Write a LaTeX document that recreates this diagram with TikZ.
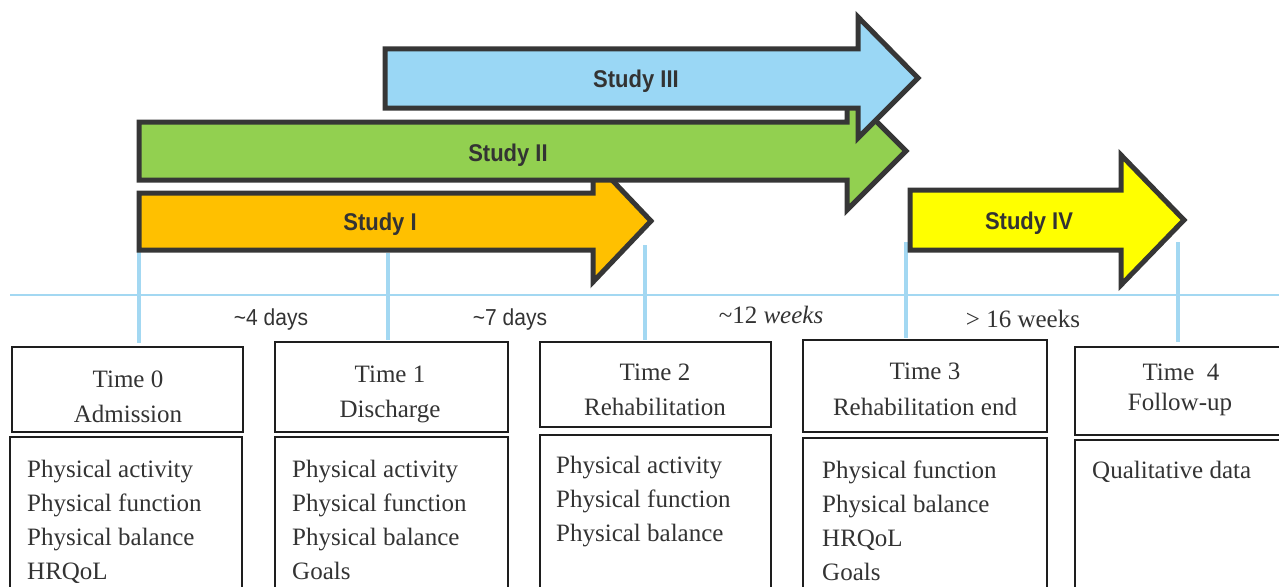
\documentclass[tikz,border=0pt]{standalone}
\usepackage{fontspec}
\setmainfont{Liberation Serif}
\newfontfamily\arialf{Liberation Sans}
\definecolor{arrowborder}{HTML}{363636}
\definecolor{orangefill}{HTML}{FFC000}
\definecolor{greenfill}{HTML}{92D050}
\definecolor{bluefill}{HTML}{9AD7F5}
\definecolor{yellowfill}{HTML}{FFFF00}
\definecolor{axisblue}{HTML}{A3D8F2}
\definecolor{labelgray}{HTML}{333333}
\definecolor{boxline}{HTML}{1E1E1E}
\newcommand{\tallify}[1]{\scalebox{1}[1.1]{#1}}
\begin{document}
\begin{tikzpicture}[x=1pt,y=-1pt,
  arrowshape/.style={draw=arrowborder, line width=5pt, line join=miter},
  studylabel/.style={font=\arialf\bfseries\fontsize{22}{26}\selectfont, text=labelgray, inner sep=0pt, anchor=base},
  tickline/.style={draw=axisblue, line width=4.5pt},
  axisline/.style={draw=axisblue, line width=1.8pt},
  gaplabel/.style={font=\fontsize{25}{28}\selectfont, text=labelgray, inner sep=0pt, anchor=base},
  boxsty/.style={draw=boxline, line width=1.4pt, inner sep=0pt},
  txt/.style={font=\fontsize{25}{28}\selectfont, text=labelgray, inner sep=0pt},
]
\useasboundingbox (0,0) rectangle (1279,586);
\clip (0,0) rectangle (1279,586);

% timeline
\coordinate (axL) at (10,295);
\coordinate (axR) at (1279,295);
\draw[axisline] (axL) -- (axR);

% ticks
\coordinate (t0a) at (139,242); \coordinate (t0b) at (139,343);
\coordinate (t1a) at (388,253); \coordinate (t1b) at (388,340);
\coordinate (t2a) at (645,245); \coordinate (t2b) at (645,340);
\coordinate (t3a) at (906,242); \coordinate (t3b) at (906,338);
\coordinate (t4a) at (1178,242); \coordinate (t4b) at (1178,342);
\draw[tickline] (t0a) -- (t0b);
\draw[tickline] (t1a) -- (t1b);
\draw[tickline] (t2a) -- (t2b);
\draw[tickline] (t3a) -- (t3b);
\draw[tickline] (t4a) -- (t4b);

% block arrows
\draw[arrowshape, fill=orangefill] (139,193) -- (593,193) -- (593,160) -- (651,221) -- (593,282) -- (593,250) -- (139,250) -- cycle;
\draw[arrowshape, fill=greenfill] (139,122) -- (847,122) -- (847,92) -- (906,151) -- (847,210) -- (847,180) -- (139,180) -- cycle;
\draw[arrowshape, fill=bluefill] (385,49) -- (858,49) -- (858,17) -- (918,78) -- (858,138) -- (858,108) -- (385,108) -- cycle;
\draw[arrowshape, fill=yellowfill] (910,190) -- (1121,190) -- (1121,155) -- (1184,220) -- (1121,285) -- (1121,250) -- (910,250) -- cycle;

\node[studylabel] (s1) at (380,230) {\tallify{Study I}};
\node[studylabel] (s2) at (508,161) {\tallify{Study II}};
\node[studylabel] (s3) at (636,87) {\tallify{Study III}};
\node[studylabel] (s4) at (1029,229) {\tallify{Study IV}};

% gap labels
\node[gaplabel, font=\arialf\fontsize{21}{26}\selectfont] (g1) at (271,325) {\tallify{\textasciitilde4 days}};
\node[gaplabel, font=\arialf\fontsize{21}{26}\selectfont] (g2) at (510,325) {\tallify{\textasciitilde7 days}};
\node[gaplabel] (g3) at (771,323) {\textasciitilde12 \textit{weeks}};
\node[gaplabel] (g4) at (1023,327) {> 16 weeks};

% header boxes
\node[boxsty, minimum width=231pt, minimum height=85pt] (h0) at (127.5,389.5) {};
\node[boxsty, minimum width=233pt, minimum height=90pt] (h1) at (391.5,387) {};
\node[boxsty, minimum width=231pt, minimum height=85pt] (h2) at (655.5,384.5) {};
\node[boxsty, minimum width=244pt, minimum height=92pt] (h3) at (925,386) {};
\node[boxsty, minimum width=215pt, minimum height=88pt] (h4) at (1182.5,391) {};
% body boxes
\node[boxsty, minimum width=232pt, minimum height=183pt] (b0) at (126,528.5) {};
\node[boxsty, minimum width=233pt, minimum height=183pt] (b1) at (391.5,528.5) {};
\node[boxsty, minimum width=231pt, minimum height=185pt] (b2) at (655.5,527.5) {};
\node[boxsty, minimum width=244pt, minimum height=182pt] (b3) at (925,529) {};
\node[boxsty, minimum width=215pt, minimum height=180pt] (b4) at (1182.5,530) {};

% header texts
\node[txt, anchor=base] (h0a) at (128,387) {Time 0};
\node[txt, anchor=base] (h0b) at (128,422) {Admission};
\node[txt, anchor=base] (h1a) at (390,382) {Time 1};
\node[txt, anchor=base] (h1b) at (390,417) {Discharge};
\node[txt, anchor=base] (h2a) at (655,380) {Time 2};
\node[txt, anchor=base] (h2b) at (655,415) {Rehabilitation};
\node[txt, anchor=base] (h3a) at (925,379) {Time 3};
\node[txt, anchor=base] (h3b) at (925,415) {Rehabilitation end};
\node[txt, anchor=base] (h4a) at (1181,380) {Time\ \ 4};
\node[txt, anchor=base] (h4b) at (1180,410) {Follow-up};

% body texts
\foreach \t [count=\i] in {Physical activity, Physical function, Physical balance, HRQoL}
  \node[txt, anchor=base west] (b0l\i) at (27,{477+34*(\i-1)}) {\t};
\foreach \t [count=\i] in {Physical activity, Physical function, Physical balance, Goals}
  \node[txt, anchor=base west] (b1l\i) at (292,{477+34*(\i-1)}) {\t};
\foreach \t [count=\i] in {Physical activity, Physical function, Physical balance}
  \node[txt, anchor=base west] (b2l\i) at (556,{473+34*(\i-1)}) {\t};
\foreach \t [count=\i] in {Physical function, Physical balance, HRQoL, Goals}
  \node[txt, anchor=base west] (b3l\i) at (822,{478+34*(\i-1)}) {\t};
\node[txt, anchor=base west] (b4l1) at (1092,478) {Qualitative data};
\end{tikzpicture}
\end{document}
